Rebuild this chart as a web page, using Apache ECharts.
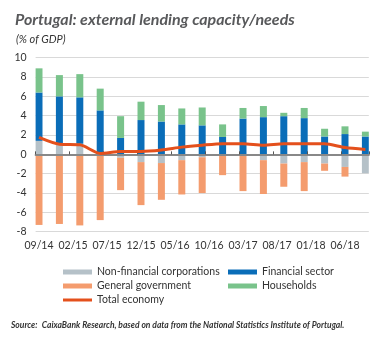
<!DOCTYPE html>
<html><head><meta charset="utf-8">
<script src="https://cdn.jsdelivr.net/npm/echarts@6/dist/echarts.min.js"></script>
<style>html,body{margin:0;padding:0;background:#fff}#c{width:387px;height:338px}</style>
</head><body><div id="c"></div>
<script>
// Quarterly observations (MM/YY)
var quarters = ["09/14","12/14","03/15","06/15","09/15","12/15","03/16","06/16","09/16","12/16","03/17","06/17","09/17","12/17","03/18","06/18","09/18"];
var nonFinancial = [1.4, 1.0, 1.1, 0.0, -0.35, -0.8, -0.9, -0.6, -0.3, 0.0, 0.0, -0.6, -0.95, -0.8, -0.95, -1.3, -1.95];
var generalGov   = [-7.3, -7.2, -7.35, -6.8, -3.35, -4.45, -3.8, -3.55, -3.7, -2.15, -3.8, -3.5, -2.4, -3.0, -0.75, -1.0, 0.0];
var financial    = [5.0, 5.0, 4.8, 4.55, 1.7, 3.55, 3.4, 3.1, 3.0, 1.8, 3.7, 3.85, 3.95, 3.75, 1.85, 2.1, 1.85];
var households   = [2.5, 2.2, 2.4, 2.25, 2.25, 1.9, 1.7, 1.65, 1.85, 1.3, 1.1, 1.15, 0.35, 1.05, 0.8, 0.8, 0.5];
var totalEconomy = [1.75, 1.05, 1.0, 0.1, 0.3, 0.3, 0.45, 0.75, 0.95, 1.1, 1.1, 0.95, 1.1, 1.1, 1.1, 0.7, 0.5];
var yTicks = [-8, -6, -4, -2, 0, 2, 4, 6, 8, 10];

// Monthly category axis from first to last quarter
var months = [];
(function(){
  var m = 9, y = 14;
  while (true) {
    var lab = (m < 10 ? "0" + m : "" + m) + "/" + y;
    months.push(lab);
    if (lab === quarters[quarters.length - 1]) break;
    m++; if (m > 12) { m = 1; y++; }
  }
})();
function spread(arr) {
  var out = months.map(function(){ return null; });
  quarters.forEach(function(q, i){ out[months.indexOf(q)] = arr[i]; });
  return out;
}

var FONT = 'Lato';
var chart = echarts.init(document.getElementById('c'), null, {renderer: 'canvas'});
var barW = 7;
chart.setOption({
  animation: false,
  textStyle: {fontFamily: FONT},
  title: [
    {text: 'Portugal: external lending capacity/needs', left: 10, top: 7,
     textStyle: {fontFamily: FONT, fontSize: 16, fontWeight: 'bold', fontStyle: 'italic', color: '#58595b'}},
    {text: '(% of GDP)', left: 11, top: 29,
     textStyle: {fontFamily: FONT, fontSize: 11, fontWeight: 'normal', fontStyle: 'italic', color: '#333'}},
    {text: '{b|Source:} {n|CaixaBank Research, based on data from the National Statistics Institute of Portugal.}', left: 6, top: 311,
     textStyle: {rich: {
       b: {fontFamily: FONT, fontSize: 8.5, fontWeight: 'bold', fontStyle: 'italic', color: '#333'},
       n: {fontFamily: FONT, fontSize: 8.5, fontStyle: 'italic', color: '#333'}
     }}}
  ],
  legend: [
    {orient: 'vertical', left: 58, top: 260, itemWidth: 29, itemHeight: 5, itemGap: 0,
     textStyle: {fontFamily: FONT, fontSize: 10.5, color: '#333', lineHeight: 14},
     data: [{name: 'Non-financial corporations', icon: 'rect'}, {name: 'General government', icon: 'rect'},
            {name: 'Total economy', icon: 'path://M0,0H29V3H0Z'}]},
    {orient: 'vertical', left: 223, top: 260, itemWidth: 29, itemHeight: 5, itemGap: 0,
     textStyle: {fontFamily: FONT, fontSize: 10.5, color: '#333', lineHeight: 14},
     data: [{name: 'Financial sector', icon: 'rect'}, {name: 'Households', icon: 'rect'}]}
  ],
  grid: {left: 35.6, right: 18.2, top: 57.7, bottom: 106.3},
  xAxis: [
    {type: 'category', data: months, boundaryGap: true, position: 'bottom',
     axisLine: {show: false, onZero: false}, axisTick: {show: false},
     axisLabel: {interval: 4, margin: 8, fontFamily: FONT, fontSize: 10.5, color: '#333'}},
    {type: 'category', data: months, boundaryGap: true, position: 'bottom', z: 3,
     axisLine: {show: true, onZero: true, lineStyle: {color: '#888', width: 2}},
     axisTick: {show: true, interval: 4, inside: true, length: 3, lineStyle: {color: '#555', width: 1}},
     axisLabel: {show: false}}
  ],
  yAxis: {type: 'value', min: -8, max: 10, interval: 2,
    axisLine: {show: false}, axisTick: {show: false},
    axisLabel: {margin: 9, fontFamily: FONT, fontSize: 10.5, color: '#333',
      customValues: yTicks},
    splitLine: {lineStyle: {color: '#d9d9d9', width: 1}}},
  series: [
    {name: 'Non-financial corporations', type: 'bar', stack: 's', barWidth: barW, data: spread(nonFinancial), itemStyle: {color: '#b5c1c8'}},
    {name: 'General government', type: 'bar', stack: 's', barWidth: barW, data: spread(generalGov), itemStyle: {color: '#f49c6e'}},
    {name: 'Financial sector', type: 'bar', stack: 's', barWidth: barW, data: spread(financial), itemStyle: {color: '#0a6db8'}},
    {name: 'Households', type: 'bar', stack: 's', barWidth: barW, data: spread(households), itemStyle: {color: '#79c38b'}},
    {name: 'Total economy', type: 'line', data: spread(totalEconomy), connectNulls: true, smooth: 0.25,
     symbol: 'none', z: 5, lineStyle: {color: '#e4501c', width: 3}, itemStyle: {color: '#e4501c'}}
  ]
});
</script></body></html>
